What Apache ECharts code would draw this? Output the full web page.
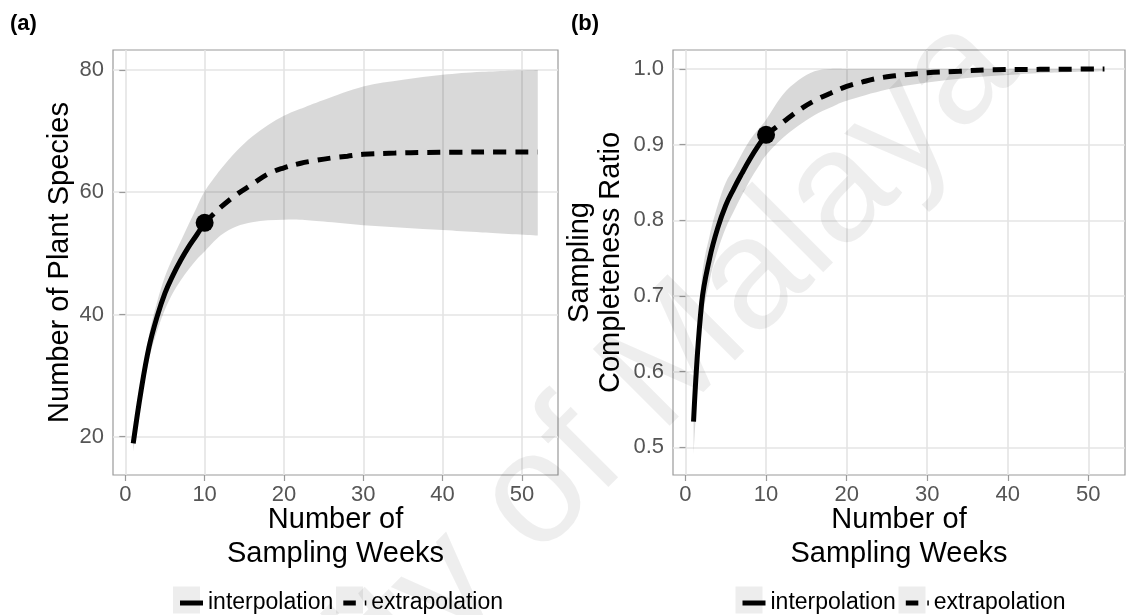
<!DOCTYPE html>
<html>
<head>
<meta charset="utf-8">
<script src="https://cdn.jsdelivr.net/npm/echarts@6/dist/echarts.min.js"></script>
<style>
html,body{margin:0;padding:0;background:#fff;}
#chart{width:1128px;height:615px;}
</style>
</head>
<body>
<div id="chart"></div>
<script>
// ---------- data ----------
const xTicks = [0, 10, 20, 30, 40, 50];
const yTicksA = [20, 40, 60, 80];
const yTicksB = [0.5, 0.6, 0.7, 0.8, 0.9, 1.0];

// Panel (a): number of plant species
const weeksInterpA = [1, 2, 3, 4, 5, 6, 7, 8, 9, 10];
const interpA = [18.9, 27.6, 34.7, 39.6, 43.5, 46.4, 48.9, 51.1, 53.0, 55.0];
const weeksExtrapA = [10, 12, 14, 16, 18, 20, 22, 24, 26, 28, 30, 34, 38, 42, 46, 52];
const extrapA = [55.0, 57.5, 59.6, 61.3, 63.0, 64.0, 64.7, 65.2, 65.6, 65.9, 66.2, 66.4, 66.5, 66.55, 66.6, 66.6];
const bandWeeksA = [1, 2, 3, 4, 5, 6, 7, 8, 9, 10, 12, 14, 16, 18, 20, 22, 25, 30, 35, 40, 45, 52];
const lowerA = [17.5, 26.0, 32.7, 37.2, 40.8, 43.5, 45.6, 47.4, 49.0, 50.3, 52.9, 54.4, 55.1, 55.4, 55.5, 55.5, 55.2, 54.6, 54.2, 53.8, 53.4, 52.9];
const upperA = [20.3, 29.3, 36.7, 42.0, 46.2, 49.3, 52.0, 54.8, 57.5, 60.1, 63.7, 66.7, 69.1, 71.0, 72.5, 73.6, 75.1, 77.3, 78.4, 79.2, 79.7, 80.0];
const observedA = [10, 55.0];

// Panel (b): sampling completeness ratio
const weeksInterpB = [1, 2, 3, 4, 5, 6, 7, 8, 9, 10];
const interpB = [0.534, 0.69, 0.75, 0.79, 0.82, 0.842, 0.862, 0.881, 0.898, 0.913];
const weeksExtrapB = [10, 12, 14, 16, 18, 20, 22, 24, 26, 28, 30, 34, 38, 44, 52];
const extrapB = [0.913, 0.929, 0.945, 0.958, 0.968, 0.977, 0.983, 0.988, 0.991, 0.993, 0.995, 0.997, 0.999, 0.9995, 1.0];
const bandWeeksB = [1, 2, 3, 4, 5, 6, 7, 8, 9, 10, 12, 14, 16, 18, 20, 25, 30, 35, 40, 45, 52];
const lowerB = [0.49, 0.655, 0.72, 0.76, 0.79, 0.812, 0.833, 0.853, 0.87, 0.886, 0.908, 0.925, 0.939, 0.949, 0.958, 0.973, 0.982, 0.988, 0.992, 0.995, 0.997];
const upperB = [0.575, 0.72, 0.78, 0.82, 0.85, 0.868, 0.888, 0.906, 0.92, 0.933, 0.965, 0.985, 0.997, 1.0, 1.0, 1.0, 1.0, 1.0, 1.0, 1.0, 1.0];
const observedB = [10, 0.913];

const legendNames = ['interpolation', 'extrapolation'];
const xTitle = 'Number of\nSampling Weeks';
const yTitleA = 'Number of Plant Species';
const yTitleB = 'Sampling\nCompleteness Ratio';

// ---------- helpers ----------
const zip = (xs, ys) => xs.map((x, i) => [x, ys[i]]);

const FONT = 'Liberation Sans, Arial, Helvetica, sans-serif';
const GRID_COLOR = '#e4e4e4';
const BORDER = '#9a9a9a';
const BAND = 'rgba(0,0,0,0.15)';

// Catmull-Rom -> cubic Bezier path through pixel points (rendering only)
function splinePath(pts, startCmd) {
  let d = startCmd + pts[0][0] + ',' + pts[0][1];
  for (let i = 0; i < pts.length - 1; i++) {
    const p0 = pts[Math.max(i - 1, 0)], p1 = pts[i], p2 = pts[i + 1], p3 = pts[Math.min(i + 2, pts.length - 1)];
    const c1x = p1[0] + (p2[0] - p0[0]) / 6, c1y = p1[1] + (p2[1] - p0[1]) / 6;
    const c2x = p2[0] - (p3[0] - p1[0]) / 6, c2y = p2[1] - (p3[1] - p1[1]) / 6;
    d += ' C' + c1x + ',' + c1y + ' ' + c2x + ',' + c2y + ' ' + p2[0] + ',' + p2[1];
  }
  return d;
}

function xAxisCfg(gi) {
  return {
    type: 'value', gridIndex: gi, min: -1.55, max: 54.55,
    axisLine: { show: false },
    axisTick: { show: true, length: 6, lineStyle: { color: BORDER, width: 1.2 }, customValues: xTicks },
    axisLabel: { customValues: xTicks, fontSize: 22, color: '#555', margin: 9, fontFamily: FONT },
    splitLine: { show: true, lineStyle: { color: GRID_COLOR, width: 1.6 } },
    name: xTitle, nameLocation: 'middle', nameGap: 28, nameMoveOverlap: false,
    nameTextStyle: { fontSize: 29, color: '#000', lineHeight: 34, fontFamily: FONT }
  };
}
function yAxisCfg(gi, min, max, ticks, name, gap, fmt) {
  return {
    type: 'value', gridIndex: gi, min: min, max: max,
    axisLine: { show: false },
    axisTick: { show: true, length: 6, lineStyle: { color: BORDER, width: 1.2 }, customValues: ticks },
    axisLabel: { customValues: ticks, fontSize: 22, color: '#555', margin: 9, fontFamily: FONT, formatter: fmt },
    splitLine: { show: true, lineStyle: { color: GRID_COLOR, width: 1.6 } },
    name: name, nameLocation: 'middle', nameGap: gap, nameMoveOverlap: false,
    nameTextStyle: { fontSize: 29, color: '#000', lineHeight: 31, fontFamily: FONT }
  };
}
function panelSeries(gi, bw, lo, hi, wi, iv, we, ev, obs) {
  const base = { xAxisIndex: gi, yAxisIndex: gi, symbol: 'none', smooth: 0.4, silent: true, animation: false };
  return [
    {
      type: 'custom', xAxisIndex: gi, yAxisIndex: gi, silent: true, animation: false, z: 1,
      data: bw.map((t, i) => [t, lo[i], hi[i]]),
      encode: { x: 0, y: [1, 2] },
      renderItem: function (params, api) {
        if (params.dataIndex !== 0) return;
        const up = bw.map((t, i) => api.coord([t, hi[i]]));
        const dn = bw.map((t, i) => api.coord([t, lo[i]])).reverse();
        const d = splinePath(up, 'M') + ' ' + splinePath(dn, 'L') + ' Z';
        return { type: 'path', shape: { pathData: d }, style: { fill: BAND } };
      }
    },
    Object.assign({}, base, { type: 'line', name: legendNames[0], data: zip(wi, iv), lineStyle: { color: '#000', width: 5 }, itemStyle: { color: '#000' }, z: 3 }),
    Object.assign({}, base, { type: 'line', name: legendNames[1], data: zip(we, ev), lineStyle: { color: '#000', width: 5, type: [13, 9] }, itemStyle: { color: '#000' }, z: 3 }),
    { type: 'scatter', xAxisIndex: gi, yAxisIndex: gi, data: [obs], symbol: 'circle', symbolSize: 18, itemStyle: { color: '#000', opacity: 1 }, silent: true, animation: false, z: 4 }
  ];
}
function legendCfg(left) {
  return {
    left: left, top: 586.5, orient: 'horizontal',
    itemWidth: 23, itemHeight: 5, itemGap: 10, selectedMode: false, z: 5,
    itemStyle: { borderWidth: 0 },
    data: [
      { name: legendNames[0], icon: 'path://M0,0H23V5H0Z' },
      { name: legendNames[1], icon: 'path://M0,0H12.5V5H0Z M21.5,0H23V5H21.5Z' }
    ],
    textStyle: { fontSize: 23, color: '#000', fontFamily: FONT, padding: [0, 0, 0, 0] }
  };
}

const chart = echarts.init(document.getElementById('chart'), null, { renderer: 'canvas' });
chart.setOption({
  animation: false,
  backgroundColor: '#fff',
  textStyle: { fontFamily: FONT },
  grid: [
    { left: 113, top: 50, width: 445, height: 425, show: true, borderColor: BORDER, borderWidth: 1.2, backgroundColor: 'transparent' },
    { left: 673, top: 50, width: 452, height: 425, show: true, borderColor: BORDER, borderWidth: 1.2, backgroundColor: 'transparent' }
  ],
  xAxis: [xAxisCfg(0), xAxisCfg(1)],
  yAxis: [
    yAxisCfg(0, 13.73, 83.27, yTicksA, yTitleA, 38, v => String(v)),
    yAxisCfg(1, 0.4634, 1.0251, yTicksB, yTitleB, 47, v => v.toFixed(1))
  ],
  legend: [legendCfg(175), legendCfg(737.5)],
  series: [].concat(
    panelSeries(0, bandWeeksA, lowerA, upperA, weeksInterpA, interpA, weeksExtrapA, extrapA, observedA),
    panelSeries(1, bandWeeksB, lowerB, upperB, weeksInterpB, interpB, weeksExtrapB, extrapB, observedB)
  ),
  graphic: [
    { type: 'text', left: 10, top: 13, z: 10, style: { text: '(a)', font: 'bold 22px ' + FONT, fill: '#000' } },
    { type: 'text', left: 571, top: 13, z: 10, style: { text: '(b)', font: 'bold 22px ' + FONT, fill: '#000' } },
    { type: 'rect', shape: { x: 173, y: 586.5, width: 27, height: 27 }, style: { fill: '#ededed' }, z: 1 },
    { type: 'rect', shape: { x: 336, y: 586.5, width: 27, height: 27 }, style: { fill: '#ededed' }, z: 1 },
    { type: 'rect', shape: { x: 735.5, y: 586.5, width: 27, height: 27 }, style: { fill: '#ededed' }, z: 1 },
    { type: 'rect', shape: { x: 898.5, y: 586.5, width: 27, height: 27 }, style: { fill: '#ededed' }, z: 1 },
    { type: 'text', x: 487, y: 547, rotation: Math.PI / 4, z: 100, silent: true,
      style: { text: 'University of Malaya', font: '158px ' + FONT, fill: 'rgba(0,0,0,0.065)', align: 'center', verticalAlign: 'middle', textAlign: 'center', textVerticalAlign: 'middle' } }
  ]
});
</script>
</body>
</html>
